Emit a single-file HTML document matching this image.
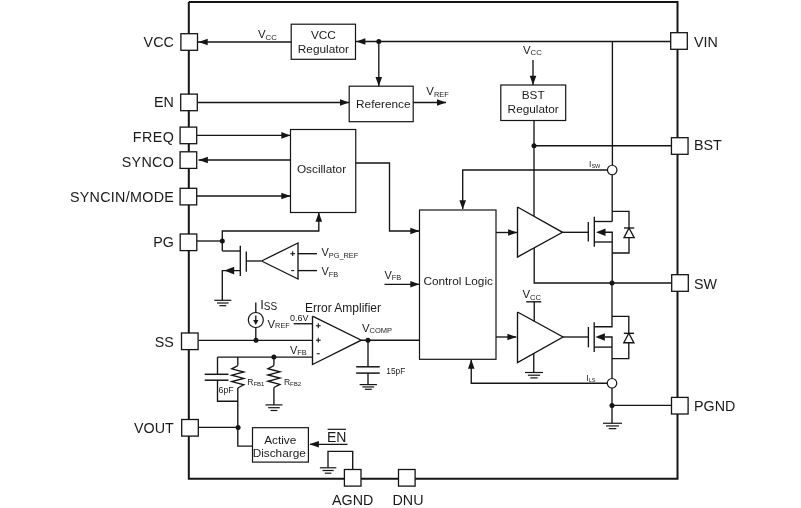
<!DOCTYPE html>
<html><head><meta charset="utf-8"><style>
html,body{margin:0;padding:0;background:#fff;}
svg{display:block;font-family:"Liberation Sans",sans-serif;will-change:transform;}
</style></head><body>
<svg width="801" height="508" viewBox="0 0 801 508">
<rect width="801" height="508" fill="#fff"/>
<path d="M188.8,2 L677.5,2 L677.5,478.8 L188.8,478.8 L188.8,2" fill="none" stroke="#151515" stroke-width="2"/>
<text x="173.8" y="47.2" font-size="14.3" text-anchor="end" fill="#1a1a1a" >VCC</text>
<text x="173.8" y="107.3" font-size="14.3" text-anchor="end" fill="#1a1a1a" >EN</text>
<text x="174.20000000000002" y="142.2" font-size="14.3" text-anchor="end" fill="#1a1a1a" letter-spacing="0.4">FREQ</text>
<text x="174.10000000000002" y="166.5" font-size="14.3" text-anchor="end" fill="#1a1a1a" letter-spacing="0.3">SYNCO</text>
<text x="174.10000000000002" y="202" font-size="14.3" text-anchor="end" fill="#1a1a1a" letter-spacing="0.3">SYNCIN/MODE</text>
<text x="173.8" y="247.4" font-size="14.3" text-anchor="end" fill="#1a1a1a" >PG</text>
<text x="173.8" y="346.5" font-size="14.3" text-anchor="end" fill="#1a1a1a" >SS</text>
<text x="173.8" y="433.3" font-size="14.3" text-anchor="end" fill="#1a1a1a" >VOUT</text>
<text x="694" y="47" font-size="14.3" text-anchor="start" fill="#1a1a1a" >VIN</text>
<text x="694" y="150.2" font-size="14.3" text-anchor="start" fill="#1a1a1a" >BST</text>
<text x="694" y="288.5" font-size="14.3" text-anchor="start" fill="#1a1a1a" >SW</text>
<text x="694" y="411" font-size="14.3" text-anchor="start" fill="#1a1a1a" >PGND</text>
<text x="352.7" y="504.5" font-size="14.3" text-anchor="middle" fill="#1a1a1a" >AGND</text>
<text x="408" y="504.5" font-size="14.3" text-anchor="middle" fill="#1a1a1a" >DNU</text>
<path d="M198,42 L291.2,42" fill="none" stroke="#151515" stroke-width="1.35"/>
<polygon points="198.5,42 207.7,38.7 207.7,45.3" fill="#151515"/>
<text x="258" y="38.0" font-size="11.4" fill="#1a1a1a">V<tspan font-size="7.8" dy="1.5">CC</tspan></text>
<rect x="291.2" y="24.2" width="64.30000000000001" height="35.099999999999994" fill="none" stroke="#151515" stroke-width="1.2"/>
<text x="323.4" y="39.3" font-size="11.8" text-anchor="middle" fill="#1a1a1a" >VCC</text>
<text x="323.4" y="53.3" font-size="11.8" text-anchor="middle" fill="#1a1a1a" >Regulator</text>
<path d="M355.5,41.5 L670.5,41.5" fill="none" stroke="#151515" stroke-width="1.35"/>
<polygon points="356.2,41.5 365.4,38.2 365.4,44.8" fill="#151515"/>
<circle cx="378.8" cy="41.5" r="2.5" fill="#151515"/>
<path d="M378.8,41.5 L378.8,86" fill="none" stroke="#151515" stroke-width="1.35"/>
<polygon points="378.8,86.2 375.5,77.0 382.1,77.0" fill="#151515"/>
<rect x="349.2" y="86.2" width="64.0" height="35.5" fill="none" stroke="#151515" stroke-width="1.2"/>
<text x="383.3" y="107.5" font-size="11.8" text-anchor="middle" fill="#1a1a1a" >Reference</text>
<path d="M197.5,102.5 L349,102.5" fill="none" stroke="#151515" stroke-width="1.35"/>
<polygon points="349.2,102.5 340.0,99.2 340.0,105.8" fill="#151515"/>
<path d="M413.2,102.5 L446,102.5" fill="none" stroke="#151515" stroke-width="1.35"/>
<polygon points="446.2,102.5 437.0,99.2 437.0,105.8" fill="#151515"/>
<text x="426.3" y="95" font-size="11.4" fill="#1a1a1a">V<tspan font-size="7.4" dy="1.5">REF</tspan></text>
<text x="523" y="53.6" font-size="11.4" fill="#1a1a1a">V<tspan font-size="7.8" dy="1.5">CC</tspan></text>
<path d="M533,60 L533,85" fill="none" stroke="#151515" stroke-width="1.35"/>
<polygon points="533,85 529.7,75.8 536.3,75.8" fill="#151515"/>
<rect x="500.8" y="85" width="64.90000000000003" height="35.5" fill="none" stroke="#151515" stroke-width="1.2"/>
<text x="533.2" y="99" font-size="11.8" text-anchor="middle" fill="#1a1a1a" >BST</text>
<text x="533.2" y="112.8" font-size="11.8" text-anchor="middle" fill="#1a1a1a" >Regulator</text>
<path d="M534,120.5 L534,216" fill="none" stroke="#151515" stroke-width="1.35"/>
<circle cx="534" cy="145.7" r="2.5" fill="#151515"/>
<path d="M534,145.7 L671,145.7" fill="none" stroke="#151515" stroke-width="1.35"/>
<path d="M612.4,41.5 L612.4,165.3" fill="none" stroke="#151515" stroke-width="1.35"/>
<circle cx="612.2" cy="170" r="4.75" fill="#fff" stroke="#151515" stroke-width="1.2"/>
<path d="M612.2,174.7 L612.2,221.5" fill="none" stroke="#151515" stroke-width="1.35"/>
<path d="M607.4,170 L462.7,170 L462.7,209" fill="none" stroke="#151515" stroke-width="1.35"/>
<polygon points="462.7,209.5 459.4,200.3 466.0,200.3" fill="#151515"/>
<text x="589" y="167.2" font-size="8.5" fill="#1a1a1a">I<tspan font-size="5.5" dy="0.6">SW</tspan></text>
<rect x="290.5" y="129.5" width="65.25" height="83.0" fill="none" stroke="#151515" stroke-width="1.2"/>
<text x="321.5" y="172.5" font-size="11.8" text-anchor="middle" fill="#1a1a1a" >Oscillator</text>
<path d="M197,135.4 L290,135.4" fill="none" stroke="#151515" stroke-width="1.35"/>
<polygon points="290.5,135.4 281.3,132.1 281.3,138.70000000000002" fill="#151515"/>
<path d="M198.5,160 L290.5,160" fill="none" stroke="#151515" stroke-width="1.35"/>
<polygon points="198.7,160 207.89999999999998,156.7 207.89999999999998,163.3" fill="#151515"/>
<path d="M197,196 L290,196" fill="none" stroke="#151515" stroke-width="1.35"/>
<polygon points="290.5,196 281.3,192.7 281.3,199.3" fill="#151515"/>
<path d="M355.75,163 L389.5,163 L389.5,231 L419,231" fill="none" stroke="#151515" stroke-width="1.35"/>
<polygon points="419.5,231 410.3,227.7 410.3,234.3" fill="#151515"/>
<path d="M197,241 L222.3,241" fill="none" stroke="#151515" stroke-width="1.35"/>
<circle cx="222.3" cy="241" r="2.5" fill="#151515"/>
<path d="M222.3,251 L222.3,231 L318.8,231 L318.8,213" fill="none" stroke="#151515" stroke-width="1.35"/>
<polygon points="318.8,212.5 315.5,221.7 322.1,221.7" fill="#151515"/>
<path d="M222.3,251 L240.3,251" fill="none" stroke="#151515" stroke-width="1.35"/>
<path d="M240.3,245.8 L240.3,275.9" fill="none" stroke="#151515" stroke-width="1.35"/>
<path d="M246.3,251.5 L246.3,271.7" fill="none" stroke="#151515" stroke-width="1.35"/>
<path d="M246.3,261 L261.5,261" fill="none" stroke="#151515" stroke-width="1.35"/>
<path d="M240.3,270.6 L222.3,270.6 L222.3,300.3" fill="none" stroke="#151515" stroke-width="1.35"/>
<polygon points="224.4,270.6 234.20000000000002,266.8 234.20000000000002,274.40000000000003" fill="#151515"/>
<path d="M214.3,300.3 L231.3,300.3" fill="none" stroke="#151515" stroke-width="1.2"/>
<path d="M217.02,303.0 L228.58,303.0" fill="none" stroke="#151515" stroke-width="1.2"/>
<path d="M219.4,305.7 L226.20000000000002,305.7" fill="none" stroke="#151515" stroke-width="1.2"/>
<path d="M261.5,261 L298,243 L298,279 L261.5,261" fill="none" stroke="#151515" stroke-width="1.35"/>
<path d="M290.3,253.7 L295.09999999999997,253.7" fill="none" stroke="#151515" stroke-width="1.1"/>
<path d="M292.7,251.29999999999998 L292.7,256.09999999999997" fill="none" stroke="#151515" stroke-width="1.1"/>
<path d="M291.2,270.6 L294.2,270.6" fill="none" stroke="#151515" stroke-width="1.1"/>
<path d="M298,253.7 L317,253.7" fill="none" stroke="#151515" stroke-width="1.35"/>
<path d="M298,270.6 L317,270.6" fill="none" stroke="#151515" stroke-width="1.35"/>
<text x="321.4" y="256.4" font-size="11" fill="#1a1a1a">V<tspan font-size="7.4" dy="1.6">PG_REF</tspan></text>
<text x="321.4" y="274.9" font-size="11" fill="#1a1a1a">V<tspan font-size="7.4" dy="1.6">FB</tspan></text>
<rect x="419.5" y="210" width="76.5" height="149.3" fill="none" stroke="#151515" stroke-width="1.2"/>
<text x="458.2" y="285" font-size="11.8" text-anchor="middle" fill="#1a1a1a" >Control Logic</text>
<path d="M384.5,284.3 L419,284.3" fill="none" stroke="#151515" stroke-width="1.35"/>
<polygon points="419.5,284.3 410.3,281.0 410.3,287.6" fill="#151515"/>
<text x="384.5" y="278.7" font-size="11" fill="#1a1a1a">V<tspan font-size="7.4" dy="1.6">FB</tspan></text>
<path d="M517.5,207 L517.5,257 L562.5,232.3 L517.5,207" fill="none" stroke="#151515" stroke-width="1.35"/>
<path d="M496,232.5 L517,232.5" fill="none" stroke="#151515" stroke-width="1.35"/>
<polygon points="517.3,232.5 508.09999999999997,229.2 508.09999999999997,235.8" fill="#151515"/>
<path d="M562.5,232.3 L588.3,232.3" fill="none" stroke="#151515" stroke-width="1.35"/>
<path d="M534.2,248 L534.2,283 L671.6,283" fill="none" stroke="#151515" stroke-width="1.35"/>
<circle cx="612" cy="283" r="2.5" fill="#151515"/>
<path d="M594.3,216.8 L594.3,246.7" fill="none" stroke="#151515" stroke-width="1.35"/>
<path d="M588.3,222 L588.3,241.6" fill="none" stroke="#151515" stroke-width="1.35"/>
<path d="M594.3,221.5 L612.2,221.5" fill="none" stroke="#151515" stroke-width="1.35"/>
<path d="M612.2,211.4 L629,211.4 L629,228" fill="none" stroke="#151515" stroke-width="1.35"/>
<path d="M629,237.6 L629,253 L612.2,253" fill="none" stroke="#151515" stroke-width="1.35"/>
<path d="M594.3,242 L612.2,242" fill="none" stroke="#151515" stroke-width="1.35"/>
<path d="M605,232.2 L612.2,232.2 L612.2,283" fill="none" stroke="#151515" stroke-width="1.35"/>
<polygon points="596,232.2 605.5,228.39999999999998 605.5,236.0" fill="#151515"/>
<path d="M624,228 L634.3,228" fill="none" stroke="#151515" stroke-width="1.35"/>
<path d="M629,228 L624,237.6 L634.2,237.6 L629,228" fill="none" stroke="#151515" stroke-width="1.35"/>
<text x="522.5" y="298.3" font-size="11.4" fill="#1a1a1a">V<tspan font-size="7.6" dy="1.5">CC</tspan></text>
<path d="M526.2,301.8 L541.3,301.8" fill="none" stroke="#151515" stroke-width="1.35"/>
<path d="M534.25,301.8 L534.25,321.5" fill="none" stroke="#151515" stroke-width="1.35"/>
<path d="M517.5,312 L517.5,362.5 L563,337 L517.5,312" fill="none" stroke="#151515" stroke-width="1.35"/>
<path d="M496,337 L516.3,337" fill="none" stroke="#151515" stroke-width="1.35"/>
<polygon points="516.6,337 507.40000000000003,333.7 507.40000000000003,340.3" fill="#151515"/>
<path d="M563,337 L588.4,337" fill="none" stroke="#151515" stroke-width="1.35"/>
<path d="M533.75,353 L533.75,372.5" fill="none" stroke="#151515" stroke-width="1.35"/>
<path d="M525.0,372.5 L543.0,372.5" fill="none" stroke="#151515" stroke-width="1.2"/>
<path d="M527.88,375.2 L540.12,375.2" fill="none" stroke="#151515" stroke-width="1.2"/>
<path d="M530.4,377.9 L537.6,377.9" fill="none" stroke="#151515" stroke-width="1.2"/>
<path d="M612,283 L612,326.7 L594.2,326.7" fill="none" stroke="#151515" stroke-width="1.35"/>
<path d="M612,316.4 L628.8,316.4 L628.8,333.3" fill="none" stroke="#151515" stroke-width="1.35"/>
<path d="M628.8,342.7 L628.8,358.6 L612,358.6" fill="none" stroke="#151515" stroke-width="1.35"/>
<path d="M594.2,322.3 L594.2,351.9" fill="none" stroke="#151515" stroke-width="1.35"/>
<path d="M588.4,327 L588.4,347.4" fill="none" stroke="#151515" stroke-width="1.35"/>
<path d="M605,337 L612,337 L612,378.5" fill="none" stroke="#151515" stroke-width="1.35"/>
<polygon points="595.4,337 604.9,333.2 604.9,340.8" fill="#151515"/>
<path d="M594.2,347.1 L612,347.1" fill="none" stroke="#151515" stroke-width="1.35"/>
<path d="M623.8,333.3 L634.1,333.3" fill="none" stroke="#151515" stroke-width="1.35"/>
<path d="M628.8,333.3 L623.8,342.7 L633.9,342.7 L628.8,333.3" fill="none" stroke="#151515" stroke-width="1.35"/>
<circle cx="612" cy="383.25" r="4.75" fill="#fff" stroke="#151515" stroke-width="1.2"/>
<path d="M612,388 L612,423.2" fill="none" stroke="#151515" stroke-width="1.35"/>
<circle cx="612" cy="405.5" r="2.5" fill="#151515"/>
<path d="M612,405.3 L671,405.3" fill="none" stroke="#151515" stroke-width="1.35"/>
<path d="M603.0,423.25 L622.0,423.25" fill="none" stroke="#151515" stroke-width="1.2"/>
<path d="M606.04,425.95 L618.96,425.95" fill="none" stroke="#151515" stroke-width="1.2"/>
<path d="M608.7,428.65 L616.3,428.65" fill="none" stroke="#151515" stroke-width="1.2"/>
<path d="M607.2,383.25 L471.25,383.25 L471.25,360" fill="none" stroke="#151515" stroke-width="1.35"/>
<polygon points="471.25,359.5 467.95,368.7 474.55,368.7" fill="#151515"/>
<text x="586.25" y="381" font-size="8.5" fill="#1a1a1a">I<tspan font-size="5.5" dy="0.6">LS</tspan></text>
<path d="M198.5,340.3 L312.5,340.3" fill="none" stroke="#151515" stroke-width="1.35"/>
<circle cx="256" cy="340.3" r="2.5" fill="#151515"/>
<path d="M255.8,302.5 L255.8,312.5" fill="none" stroke="#151515" stroke-width="1.35"/>
<circle cx="255.8" cy="320" r="7.5" fill="#fff" stroke="#151515" stroke-width="1.2"/>
<path d="M255.8,315.5 L255.8,323" fill="none" stroke="#151515" stroke-width="1.35"/>
<polygon points="255.8,325 253.20000000000002,320 258.40000000000003,320" fill="#151515"/>
<path d="M255.8,327 L255.8,340.3" fill="none" stroke="#151515" stroke-width="1.35"/>
<text x="260.2" y="308.5" font-size="13" fill="#1a1a1a">I<tspan font-size="10" dy="1">SS</tspan></text>
<text x="267.5" y="328" font-size="11.4" fill="#1a1a1a">V<tspan font-size="7.3" dy="0">REF</tspan></text>
<text x="290" y="321.3" font-size="9" text-anchor="start" fill="#1a1a1a" >0.6V</text>
<path d="M293.7,323.75 L312.5,323.75" fill="none" stroke="#151515" stroke-width="1.35"/>
<path d="M312.5,316.2 L312.5,364.5 L361.25,340.2 L312.5,316.2" fill="none" stroke="#151515" stroke-width="1.35"/>
<path d="M315.85,325.75 L320.65,325.75" fill="none" stroke="#151515" stroke-width="1.1"/>
<path d="M318.25,323.35 L318.25,328.15" fill="none" stroke="#151515" stroke-width="1.1"/>
<path d="M315.85,340.2 L320.65,340.2" fill="none" stroke="#151515" stroke-width="1.1"/>
<path d="M318.25,337.8 L318.25,342.59999999999997" fill="none" stroke="#151515" stroke-width="1.1"/>
<path d="M316.75,353.75 L319.75,353.75" fill="none" stroke="#151515" stroke-width="1.1"/>
<text x="343" y="312" font-size="12" text-anchor="middle" fill="#1a1a1a" >Error Amplifier</text>
<path d="M217.5,357.1 L312.5,357.1" fill="none" stroke="#151515" stroke-width="1.35"/>
<circle cx="273.9" cy="357.1" r="2.5" fill="#151515"/>
<text x="290" y="353.75" font-size="11" fill="#1a1a1a">V<tspan font-size="7.4" dy="1.6">FB</tspan></text>
<path d="M361.25,340.2 L419.5,340.2" fill="none" stroke="#151515" stroke-width="1.35"/>
<circle cx="368" cy="340.2" r="2.5" fill="#151515"/>
<text x="362" y="331.8" font-size="11.4" fill="#1a1a1a">V<tspan font-size="7.5" dy="0.8">COMP</tspan></text>
<path d="M368,340.2 L368,366.8" fill="none" stroke="#151515" stroke-width="1.35"/>
<path d="M356.2,366.8 L379.7,366.8" fill="none" stroke="#151515" stroke-width="1.5"/>
<path d="M356.2,373.1 L379.7,373.1" fill="none" stroke="#151515" stroke-width="1.5"/>
<path d="M368,373.1 L368,384.6" fill="none" stroke="#151515" stroke-width="1.35"/>
<path d="M359.65000000000003,384.6 L376.95,384.6" fill="none" stroke="#151515" stroke-width="1.2"/>
<path d="M362.418,386.95000000000005 L374.182,386.95000000000005" fill="none" stroke="#151515" stroke-width="1.2"/>
<path d="M364.84000000000003,389.3 L371.76,389.3" fill="none" stroke="#151515" stroke-width="1.2"/>
<text x="386.3" y="374" font-size="8.3" text-anchor="start" fill="#1a1a1a" >15pF</text>
<path d="M217.5,357.1 L217.5,374.3" fill="none" stroke="#151515" stroke-width="1.35"/>
<path d="M204.7,374.3 L228.5,374.3" fill="none" stroke="#151515" stroke-width="1.5"/>
<path d="M204.7,380.2 L228.5,380.2" fill="none" stroke="#151515" stroke-width="1.5"/>
<path d="M217.5,380.2 L217.5,401.2 L237.8,401.2" fill="none" stroke="#151515" stroke-width="1.35"/>
<text x="218.5" y="392.8" font-size="8.8" text-anchor="start" fill="#1a1a1a" >6pF</text>
<path d="M237.8,357.1 L237.8,365.6" fill="none" stroke="#151515" stroke-width="1.35"/>
<path d="M237.8,365.6 L231.8,368.80000000000007 L243.8,372.00000000000006 L231.8,375.20000000000005 L243.8,378.40000000000003 L231.8,381.6 L243.8,384.8 L237.8,388" fill="none" stroke="#151515" stroke-width="1.35"/>
<path d="M237.8,388 L237.8,446.1 L252.5,446.1" fill="none" stroke="#151515" stroke-width="1.35"/>
<circle cx="238.1" cy="427.4" r="2.5" fill="#151515"/>
<text x="247.2" y="385" font-size="8.6" fill="#1a1a1a">R<tspan font-size="6" dy="0.8">FB1</tspan></text>
<path d="M273.9,357.1 L273.9,365.6" fill="none" stroke="#151515" stroke-width="1.35"/>
<path d="M273.9,365.6 L267.9,368.7285714285714 L279.9,371.85714285714283 L267.9,374.98571428571427 L279.9,378.1142857142857 L267.9,381.24285714285713 L279.9,384.37142857142857 L273.9,387.5" fill="none" stroke="#151515" stroke-width="1.35"/>
<path d="M273.9,387.5 L273.9,404.9" fill="none" stroke="#151515" stroke-width="1.35"/>
<path d="M265.45,404.9 L282.45,404.9" fill="none" stroke="#151515" stroke-width="1.2"/>
<path d="M268.17,407.7 L279.72999999999996,407.7" fill="none" stroke="#151515" stroke-width="1.2"/>
<path d="M270.55,410.5 L277.34999999999997,410.5" fill="none" stroke="#151515" stroke-width="1.2"/>
<text x="283.9" y="385" font-size="8.6" fill="#1a1a1a">R<tspan font-size="6" dy="0.8">FB2</tspan></text>
<path d="M198.5,427.4 L238.1,427.4" fill="none" stroke="#151515" stroke-width="1.35"/>
<rect x="252.5" y="427.7" width="55.89999999999998" height="34.400000000000034" fill="none" stroke="#151515" stroke-width="1.2"/>
<text x="280.2" y="443.7" font-size="11.8" text-anchor="middle" fill="#1a1a1a" >Active</text>
<text x="279.2" y="457.2" font-size="11.8" text-anchor="middle" fill="#1a1a1a" >Discharge</text>
<path d="M347.5,444.3 L310,444.3" fill="none" stroke="#151515" stroke-width="1.35"/>
<polygon points="309.3,444.3 318.90000000000003,441.0 318.90000000000003,447.6" fill="#151515"/>
<text x="336.7" y="441.8" font-size="14" text-anchor="middle" fill="#1a1a1a" >EN</text>
<path d="M327.6,429.3 L345.9,429.3" fill="none" stroke="#151515" stroke-width="1.2"/>
<path d="M352.7,469.4 L352.7,451.4 L328,451.4 L328,467.8" fill="none" stroke="#151515" stroke-width="1.35"/>
<path d="M319.90000000000003,467.8 L336.3,467.8" fill="none" stroke="#151515" stroke-width="1.2"/>
<path d="M322.524,470.5 L333.67600000000004,470.5" fill="none" stroke="#151515" stroke-width="1.2"/>
<path d="M324.82000000000005,473.2 L331.38,473.2" fill="none" stroke="#151515" stroke-width="1.2"/>
<rect x="344.4" y="469.5" width="16.6" height="16.6" fill="#fff" stroke="#151515" stroke-width="1.3"/>
<rect x="398.5" y="469.5" width="16.6" height="16.6" fill="#fff" stroke="#151515" stroke-width="1.3"/>
<rect x="180.89999999999998" y="33.7" width="16.6" height="16.6" fill="#fff" stroke="#151515" stroke-width="1.3"/>
<rect x="180.7" y="94.10000000000001" width="16.6" height="16.6" fill="#fff" stroke="#151515" stroke-width="1.3"/>
<rect x="180.1" y="127.10000000000001" width="16.6" height="16.6" fill="#fff" stroke="#151515" stroke-width="1.3"/>
<rect x="180.1" y="151.79999999999998" width="16.6" height="16.6" fill="#fff" stroke="#151515" stroke-width="1.3"/>
<rect x="180.1" y="188.29999999999998" width="16.6" height="16.6" fill="#fff" stroke="#151515" stroke-width="1.3"/>
<rect x="180.2" y="234.0" width="16.6" height="16.6" fill="#fff" stroke="#151515" stroke-width="1.3"/>
<rect x="181.5" y="333.0" width="16.6" height="16.6" fill="#fff" stroke="#151515" stroke-width="1.3"/>
<rect x="181.7" y="419.5" width="16.6" height="16.6" fill="#fff" stroke="#151515" stroke-width="1.3"/>
<rect x="670.7" y="32.7" width="16.6" height="16.6" fill="#fff" stroke="#151515" stroke-width="1.3"/>
<rect x="671.45" y="137.7" width="16.6" height="16.6" fill="#fff" stroke="#151515" stroke-width="1.3"/>
<rect x="671.7" y="274.7" width="16.6" height="16.6" fill="#fff" stroke="#151515" stroke-width="1.3"/>
<rect x="671.5" y="397.4" width="16.6" height="16.6" fill="#fff" stroke="#151515" stroke-width="1.3"/>
</svg></body></html>
